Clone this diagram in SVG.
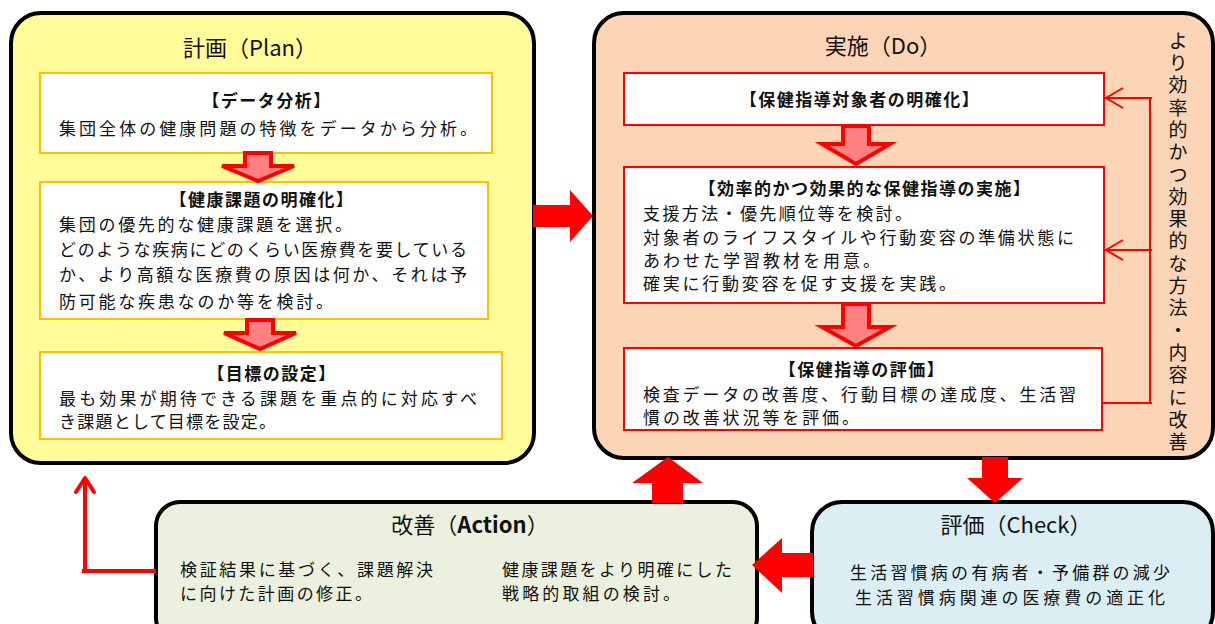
<svg xmlns="http://www.w3.org/2000/svg" width="1215" height="624" viewBox="0 0 1215 624">
<style>
text{font-family:"Noto Sans CJK JP","Liberation Sans",sans-serif;fill:#111;}
.phase{stroke:#000;stroke-width:4;}
.ttl{font-size:22px;text-anchor:middle;}
.hd{font-size:17px;font-weight:bold;text-anchor:middle;letter-spacing:1.5px;}
.bd{font-size:17px;}
.ob{fill:#fff;stroke:#FFC000;stroke-width:2;}
.rb{fill:#fff;stroke:#FF0000;stroke-width:2;}
.inarr{fill:#FF8080;stroke:#FF0000;stroke-width:4;stroke-linejoin:miter;}
.bigarr{fill:#FF0000;}
.fb{fill:none;stroke:#FF0000;stroke-width:2;}
.vt{font-size:19px;writing-mode:vertical-rl;letter-spacing:3.3px;}
</style>
<rect width="1215" height="624" fill="#fff"/>

<g id="plan">
<rect class="phase" x="11" y="13" width="523" height="450" rx="30" fill="#FFFC99"/>
<text class="ttl" x="250" y="56">計画（Plan）</text>
<g id="plan-data">
<rect class="ob" x="40" y="73" width="452" height="80"/>
<text class="hd" x="267" y="107">【データ分析】</text>
<text class="bd" x="59" y="135" textLength="418" lengthAdjust="spacing">集団全体の健康問題の特徴をデータから分析。</text>
</g>
<g id="plan-issue">
<rect class="ob" x="40" y="182" width="448" height="137"/>
<text class="hd" x="262" y="206">【健康課題の明確化】</text>
<text class="bd" x="59" y="231" textLength="293" lengthAdjust="spacing">集団の優先的な健康課題を選択。</text>
<text class="bd" x="59" y="256" textLength="408" lengthAdjust="spacing">どのような疾病にどのくらい医療費を要している</text>
<text class="bd" x="59" y="281" textLength="408" lengthAdjust="spacing">か、より高額な医療費の原因は何か、それは予</text>
<text class="bd" x="59" y="308" textLength="274" lengthAdjust="spacing">防可能な疾患なのか等を検討。</text>
</g>
<g id="plan-goal">
<rect class="ob" x="40" y="352" width="462" height="87"/>
<text class="hd" x="272" y="380">【目標の設定】</text>
<text class="bd" x="59" y="405" textLength="418" lengthAdjust="spacing">最も効果が期待できる課題を重点的に対応すべ</text>
<text class="bd" x="59" y="428" textLength="217" lengthAdjust="spacing">き課題として目標を設定。</text>
</g>
</g>

<g id="do">
<rect class="phase" x="594" y="13" width="619" height="445" rx="30" fill="#FBD5B5"/>
<text class="ttl" x="883" y="54">実施（Do）</text>
<g id="do-target">
<rect class="rb" x="624" y="73" width="480" height="52"/>
<text class="hd" x="860" y="106">【保健指導対象者の明確化】</text>
</g>
<g id="do-implement">
<rect class="rb" x="624" y="167" width="480" height="136"/>
<text class="hd" x="865" y="195">【効率的かつ効果的な保健指導の実施】</text>
<text class="bd" x="643" y="220" textLength="269" lengthAdjust="spacing">支援方法・優先順位等を検討。</text>
<text class="bd" x="643" y="244" textLength="431" lengthAdjust="spacing">対象者のライフスタイルや行動変容の準備状態に</text>
<text class="bd" x="643" y="267" textLength="237" lengthAdjust="spacing">あわせた学習教材を用意。</text>
<text class="bd" x="643" y="290" textLength="313" lengthAdjust="spacing">確実に行動変容を促す支援を実践。</text>
</g>
<g id="do-eval">
<rect class="rb" x="624" y="348" width="478" height="82"/>
<text class="hd" x="862" y="376">【保健指導の評価】</text>
<text class="bd" x="643" y="401" textLength="433" lengthAdjust="spacing">検査データの改善度、行動目標の達成度、生活習</text>
<text class="bd" x="643" y="424" textLength="216" lengthAdjust="spacing">慣の改善状況等を評価。</text>
</g>
<text class="vt" x="1178" y="31">より効率的かつ効果的な方法・内容に改善</text>
</g>

<g id="action">
<rect class="phase" x="156" y="502" width="601" height="140" rx="24" fill="#EBF1DE"/>
<text class="ttl" x="470" y="533">改善（<tspan font-weight="bold">Action</tspan>）</text>
<text class="bd" x="180" y="576" textLength="253" lengthAdjust="spacing">検証結果に基づく、課題解決</text>
<text class="bd" x="180" y="600" textLength="192" lengthAdjust="spacing">に向けた計画の修正。</text>
<text class="bd" x="502" y="576" textLength="230" lengthAdjust="spacing">健康課題をより明確にした</text>
<text class="bd" x="502" y="600" textLength="178" lengthAdjust="spacing">戦略的取組の検討。</text>
</g>

<g id="check">
<rect class="phase" x="812" y="502" width="401" height="140" rx="30" fill="#DAEEF3"/>
<text class="ttl" x="1016" y="533">評価（Check）</text>
<text class="bd" x="1010" y="579" text-anchor="middle" textLength="320" lengthAdjust="spacing">生活習慣病の有病者・予備群の減少</text>
<text class="bd" x="1010" y="604" text-anchor="middle" textLength="310" lengthAdjust="spacing">生活習慣病関連の医療費の適正化</text>
</g>

<g id="connectors">
<polygon class="inarr" points="245,153 271,153 271,166 294,166 258,181 222,166 245,166"/>
<polygon class="inarr" points="247,320 273,320 273,333 296,333 260,349 224,333 247,333"/>
<polygon class="inarr" points="843,126 869,126 869,144 890,144 856,164 822,144 843,144"/>
<polygon class="inarr" points="843,304 869,304 869,327 890,327 856,346 822,327 843,327"/>
<polygon class="bigarr" points="533,205 570,205 570,190 593,216 570,242 570,227 533,227"/>
<polygon class="bigarr" points="652,503 652,483 632,483 668,457 703,483 683,483 683,503"/>
<polygon class="bigarr" points="982,457 1008,457 1008,478 1023,478 995,503 967,478 982,478"/>
<polygon class="bigarr" points="813,553 782,553 782,538 752,565 782,593 782,577 813,577"/>
<polyline fill="none" stroke="#FF0000" stroke-width="4" points="156,571 82,571"/>
<polyline fill="none" stroke="#FF0000" stroke-width="4" points="85,573 85,478"/>
<polyline fill="none" stroke="#FF0000" stroke-width="4" stroke-linecap="round" stroke-linejoin="round" points="76,492 85,478 94,492"/>
<polyline class="fb" points="1104,98 1152,98"/>
<polyline class="fb" points="1104,250 1152,250"/>
<polyline class="fb" points="1103,403 1152,403"/>
<polyline class="fb" points="1150,97 1150,404"/>
<polyline class="fb" points="1123,88 1106,98 1123,108"/>
<polyline class="fb" points="1123,240 1106,250 1123,260"/>
</g>
</svg>
